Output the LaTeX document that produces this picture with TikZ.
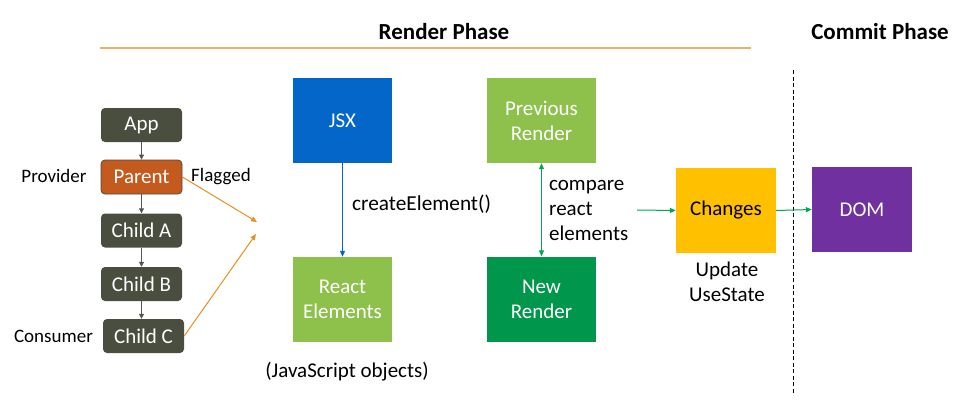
\documentclass[tikz,border=0pt]{standalone}
\usepackage{fontspec}
\setmainfont{Carlito}
\usetikzlibrary{arrows.meta}
\definecolor{treebox}{HTML}{4A4E3F}
\definecolor{parentc}{HTML}{C55A1E}
\definecolor{jsxblue}{HTML}{0466C8}
\definecolor{lgreen}{HTML}{8DC14B}
\definecolor{dgreen}{HTML}{00964B}
\definecolor{amber}{HTML}{FFC000}
\definecolor{purp}{HTML}{7030A0}
\definecolor{arrgreen}{HTML}{00A651}
\definecolor{arrorange}{HTML}{E8901A}
\definecolor{lineorange}{HTML}{EDB066}
\definecolor{arrgray}{HTML}{555555}
\tikzset{
  txt/.style={font=\fontsize{21}{25}\selectfont, inner sep=0pt},
  sidelbl/.style={font=\fontsize{19}{23}\selectfont, inner sep=0pt},
  ttl/.style={font=\fontsize{23}{27}\selectfont\bfseries, inner sep=0pt},
  treenode/.style={txt, text=white, fill=treebox, rounded corners=4pt, minimum width=81pt, minimum height=34pt},
  bigbox/.style={txt, text=white, minimum width=99pt, minimum height=85pt, align=center},
  grayarr/.style={draw=arrgray, line width=1pt, -{Triangle[length=5pt,width=5pt]}},
  orarr/.style={draw=arrorange, line width=1pt, -{Triangle[length=6pt,width=5pt]}},
  grarr/.style={draw=arrgreen, line width=1pt, -{Triangle[length=6pt,width=5pt]}},
}
\begin{document}
\begin{tikzpicture}[x=1pt,y=-1pt]
\useasboundingbox (0,0) rectangle (966,402);
% titles
\node[ttl] (render) at (444,32) {Render Phase};
\node[ttl] (commit) at (880,32) {Commit Phase};
\coordinate (l1) at (100,48);
\coordinate (l2) at (751,48);
\draw[lineorange, line width=1.3pt] (l1) -- (l2);
% dashed separator
\coordinate (d1) at (793,70);
\coordinate (d2) at (793,395);
\draw[black, line width=0.8pt, dash pattern=on 4pt off 2.5pt] (d1) -- (d2);
% tree
\node[treenode] (app) at (141.5,125) {App};
\node[treenode, fill=parentc, draw=treebox, line width=0.8pt] (parent) at (141.5,177) {Parent};
\node[treenode] (childa) at (141.5,230.5) {Child A};
\node[treenode] (childb) at (141.5,284) {Child B};
\node[treenode] (childc) at (143.5,336) {Child C};
\draw[grayarr] (app) -- (parent);
\draw[grayarr] (parent) -- (childa);
\draw[grayarr] (childa) -- (childb);
\draw[grayarr] (childb.south) -- (childb.south |- childc.north);
\node[sidelbl] (provider) at (54,176) {Provider};
\node[sidelbl] (flagged) at (221,177) {Flagged};
\node[sidelbl] (consumer) at (53.5,336) {Consumer};
\coordinate (t1) at (257,222);
\coordinate (t2) at (256,234);
\draw[orarr] (parent.east) -- (t1);
\draw[orarr] (childc.east) -- (t2);
% JSX column
\node[bigbox, fill=jsxblue] (jsx) at (342.5,120.5) {JSX};
\node[bigbox, fill=lgreen] (react) at (342.5,299.5) {React\\Elements};
\draw[draw=jsxblue, line width=1pt, -{Triangle[length=6pt,width=5pt]}] (jsx) -- (react);
\node[txt, anchor=west, font=\fontsize{21.3}{25}\selectfont] (create) at (352,204) {createElement()};
\node[txt] (jsobj) at (347,372) {(JavaScript objects)};
% compare column
\node[bigbox, fill=lgreen, minimum width=109pt] (prev) at (541.5,120.5) {Previous\\Render};
\node[bigbox, fill=dgreen, minimum width=109pt] (new) at (541.5,299) {New\\Render};
\draw[draw=arrgreen, line width=1pt, {Triangle[length=6pt,width=5pt]}-{Triangle[length=6pt,width=5pt]}] (prev) -- (new);
\node[txt, anchor=west, align=left] (compare) at (549,210) {compare\\react\\elements};
% changes / DOM
\node[bigbox, fill=amber, text=black, minimum width=100pt] (changes) at (726,210.5) {Changes};
\node[txt, align=center] (update) at (727,282) {Update\\UseState};
\node[bigbox, fill=purp, minimum width=100pt] (dom) at (862,209.5) {DOM};
\coordinate (c0) at (637,210);
\draw[grarr] (c0) -- (changes.west);
\draw[grarr] (changes.east) -- (dom.west);
\end{tikzpicture}
\end{document}
